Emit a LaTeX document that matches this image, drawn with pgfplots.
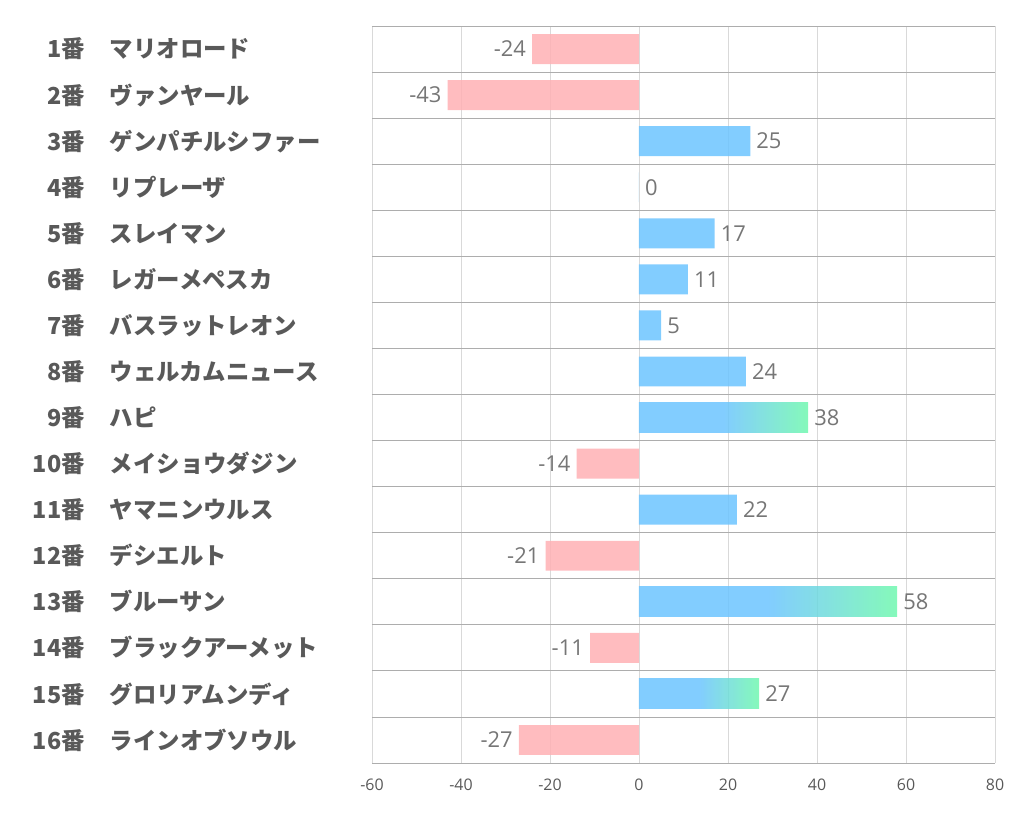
\documentclass[border=0pt]{standalone}
\usepackage{fontspec}
\usepackage{pgfplots}
\pgfplotsset{compat=1.18}
\setmainfont{Open Sans}
\newfontfamily\cjk{Noto Sans CJK JP}
\definecolor{lab}{HTML}{595959}
\definecolor{num}{HTML}{767676}
\definecolor{pinkbar}{HTML}{FFB0B4}
\definecolor{bluebar}{HTML}{6CC4FF}
\definecolor{greenbar}{HTML}{70F8AE}
\definecolor{hgrid}{HTML}{ADADAD}
\definecolor{vgrid}{HTML}{D9D9D9}
\pgfdeclarehorizontalshading{bgshade}{100bp}{color(0bp)=(bluebar); color(50bp)=(bluebar); color(75bp)=(greenbar); color(100bp)=(greenbar)}
\newcommand\lab[2]{\makebox[60bp][r]{#1}\hspace{25bp}\makebox[257bp][l]{#2}}
\begin{document}
\begin{tikzpicture}
\begin{axis}[
  scale only axis, width=623bp, height=737bp,
  xbar, bar width=0.65, bar shift=0pt,
  xmin=-60, xmax=80, ymin=0.5, ymax=16.5, y dir=reverse,
  xtick={-60,-40,...,80}, ytick={1,...,16},
  minor ytick={0.5,1.5,...,16.5},
  yticklabels={\lab{1番}{マリオロード},\lab{2番}{ヴァンヤール},\lab{3番}{ゲンパチルシファー},\lab{4番}{リプレーザ},\lab{5番}{スレイマン},\lab{6番}{レガーメペスカ},\lab{7番}{バスラットレオン},\lab{8番}{ウェルカムニュース},\lab{9番}{ハピ},\lab{10番}{メイショウダジン},\lab{11番}{ヤマニンウルス},\lab{12番}{デシエルト},\lab{13番}{ブルーサン},\lab{14番}{ブラックアーメット},\lab{15番}{グロリアムンディ},\lab{16番}{ラインオブソウル}},
  xmajorgrids, yminorgrids,
  major grid style={vgrid, line width=0.8bp},
  minor grid style={hgrid, line width=0.8bp},
  axis line style={draw=none},
  major tick length=0pt, minor tick length=0pt,
  /pgf/number format/assume math mode=true,
  xticklabel style={font=\fontsize{16}{18}\selectfont, text=lab, yshift=-12bp},
  yticklabel style={font=\cjk\bfseries\fontsize{23.5}{26}\selectfont, text=lab, anchor=east, inner sep=0pt, xshift=-5bp},
  nodes near coords,
  nodes near coords style={font=\fontsize{22}{26}\selectfont, text=num, fill opacity=1, text opacity=1, inner xsep=6bp},
]
\addplot[draw=none, fill=pinkbar, fill opacity=0.85] coordinates {(-24,1) (-43,2) (-14,10) (-21,12) (-11,14) (-27,16)};
\addplot[draw=none, fill=bluebar, fill opacity=0.85] coordinates {(25,3) (0,4) (17,5) (11,6) (5,7) (24,8) (22,11)};
\addplot[draw=none, shading=bgshade, fill opacity=0.85] coordinates {(38,9)};
\addplot[draw=none, shading=bgshade, fill opacity=0.85] coordinates {(58,13)};
\addplot[draw=none, shading=bgshade, fill opacity=0.85] coordinates {(27,15)};
\coordinate (bl) at (axis cs:-60,16.5);
\coordinate (tr) at (axis cs:80,0.5);
\end{axis}
\pgfresetboundingbox
\path[use as bounding box] ([xshift=-372bp,yshift=-71bp]bl) rectangle ([xshift=27bp,yshift=26bp]tr);
\end{tikzpicture}
\end{document}
